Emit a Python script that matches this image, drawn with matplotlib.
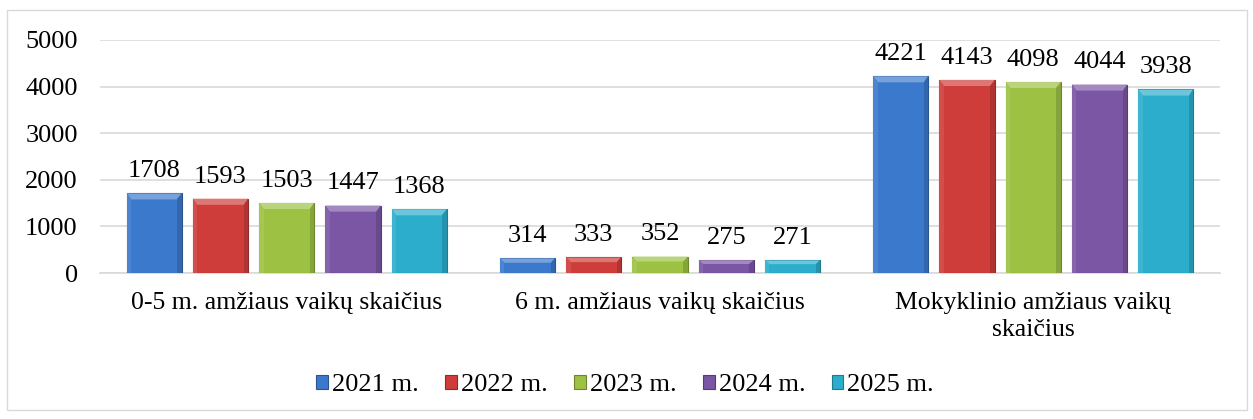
import matplotlib
matplotlib.use("Agg")
import matplotlib.pyplot as plt
import numpy as np
from matplotlib.patches import Rectangle, Polygon
from matplotlib.colors import to_rgb

categories = ["0-5 m. amžiaus vaikų skaičius", "6 m. amžiaus vaikų skaičius",
              "Mokyklinio amžiaus vaikų\nskaičius"]
series_names = ["2021 m.", "2022 m.", "2023 m.", "2024 m.", "2025 m."]
values = {
    "2021 m.": [1708, 314, 4221],
    "2022 m.": [1593, 333, 4143],
    "2023 m.": [1503, 352, 4098],
    "2024 m.": [1447, 275, 4044],
    "2025 m.": [1368, 271, 3938],
}
colors = ["#3b79cc", "#cf3d3a", "#9cc143", "#7a56a4", "#2cadcc"]


def shade(c, f):
    r, g, b = to_rgb(c)
    if f >= 0:
        return (r + (1 - r) * f, g + (1 - g) * f, b + (1 - b) * f)
    return (r * (1 + f), g * (1 + f), b * (1 + f))


plt.rcParams['font.family'] = ['Liberation Serif', 'DejaVu Serif']

fig = plt.figure(figsize=(12.53, 4.19), dpi=100)
fig.patches.append(Rectangle((7/1253, 1-410/419), 1240/1253, 400/419,
                             transform=fig.transFigure, fill=False,
                             edgecolor="#d9d9d9", linewidth=1.0))
ax = fig.add_axes([100/1253, 1-273/419, 1120/1253, 233/419])

x = np.arange(len(categories))
step = 0.1775
width = 0.148
bev_x = 0.012   # bevel depth in x data units
bev_y = 130     # bevel depth in y data units
for i, name in enumerate(series_names):
    pos = x + (i - 2) * step
    bars = ax.bar(pos, values[name], width, color=colors[i],
                  edgecolor=shade(colors[i], -0.3), linewidth=0.8,
                  label=name, zorder=3)
    for b, v in zip(bars, values[name]):
        x0, x1 = b.get_x(), b.get_x() + b.get_width()
        h = b.get_height()
        by = min(bev_y, h * 0.3)
        ax.add_patch(Polygon([(x0, h), (x1, h), (x1 - bev_x, h - by), (x0 + bev_x, h - by)],
                             closed=True, facecolor=shade(colors[i], 0.3),
                             edgecolor="none", zorder=4))
        ax.add_patch(Polygon([(x1, h), (x1, 0), (x1 - bev_x, 0), (x1 - bev_x, h - by)],
                             closed=True, facecolor=shade(colors[i], -0.15),
                             edgecolor="none", zorder=4))
        ax.add_patch(Polygon([(x0, h), (x0, 0), (x0 + bev_x, 0), (x0 + bev_x, h - by)],
                             closed=True, facecolor=shade(colors[i], 0.08),
                             edgecolor="none", zorder=4))
        ax.annotate(str(v), (b.get_x() + b.get_width() / 2, h), xytext=(0, 8),
                    textcoords="offset points", ha="center", va="bottom",
                    fontsize=19, zorder=5)

ax.set_xlim(-0.5, 2.5)
ax.set_ylim(0, 5000)
ax.set_yticks([0, 1000, 2000, 3000, 4000, 5000])
ax.yaxis.grid(True, color="#d9d9d9", linewidth=1.2, zorder=0)
ax.set_axisbelow(True)
for s in ["left", "right", "top"]:
    ax.spines[s].set_visible(False)
ax.spines["bottom"].set_color("#d9d9d9")
ax.spines["bottom"].set_linewidth(1.2)
ax.tick_params(axis="both", length=0)
ax.tick_params(axis="y", pad=16, labelsize=19)
ax.tick_params(axis="x", pad=14, labelsize=18.5)
ax.set_xticks(x)
ax.set_xticklabels(categories, linespacing=1.25)

fig.legend(loc="center", bbox_to_anchor=(625/1253, 1-385/419), ncol=5, frameon=False,
           fontsize=19, handlelength=0.45, handleheight=0.45, handletextpad=0.15,
           columnspacing=1.0)

fig.savefig("out.png", dpi=100)
